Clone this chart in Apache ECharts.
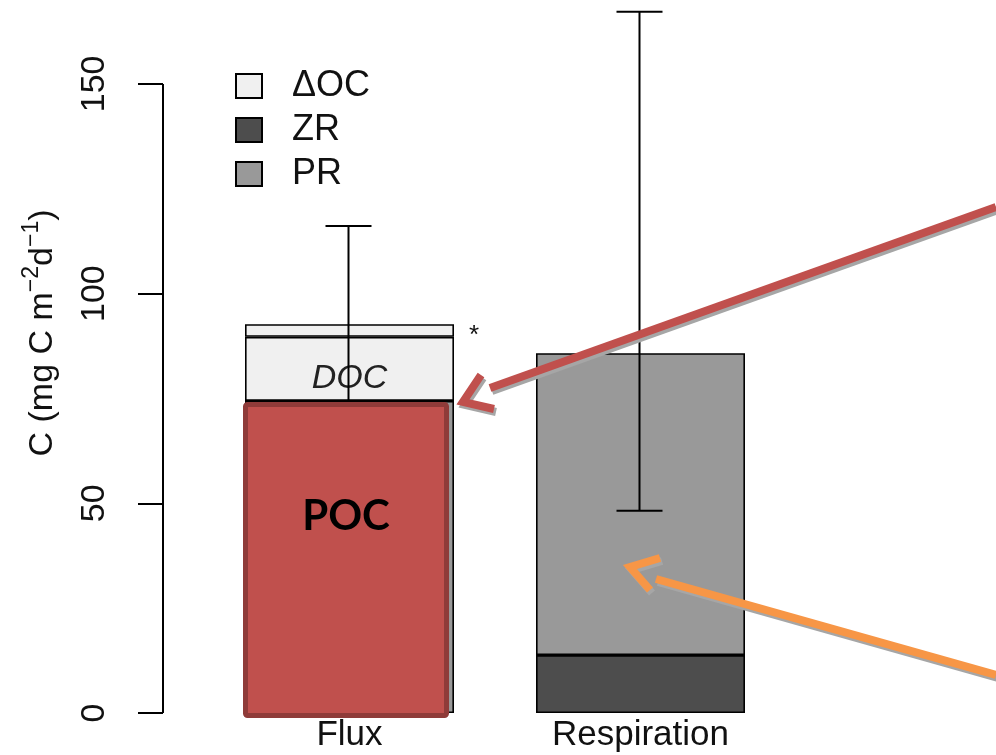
<!DOCTYPE html>
<html>
<head>
<meta charset="utf-8">
<title>Carbon flux vs respiration</title>
<script src="https://cdn.jsdelivr.net/npm/echarts@6/dist/echarts.min.js"></script>
<style>
  html, body { margin: 0; padding: 0; background: #ffffff; }
  #chart { width: 996px; height: 755px; }
</style>
</head>
<body>
<div id="chart"></div>
<script>
// Categories and stacked components (mg C m-2 d-1)
const categories = ['Flux', 'Respiration'];
const pocValues = [74.4, null];
const docValues = [15.3, null];
const deltaOcValues = [3.0, null];
const zrValues = [null, 13.8];
const prValues = [null, 72.0];
// Error bar extents for each total
const errLow = [69.4, 48.2];
const errHigh = [116.1, 167.2];
// Y axis tick values
const yTicks = [0, 50, 100, 150];

const FONT = 'Liberation Sans, Arial, sans-serif';
const gridLeft = 204;
const axisOffset = 41;
const barWidth = 209;

const chart = echarts.init(document.getElementById('chart'), null, { renderer: 'canvas' });

const barBase = {
  type: 'bar',
  stack: 'total',
  barWidth: barWidth,
  z: 2
};

const toPairs = arr => arr.map(v => (v == null ? '-' : v));
const outline = { borderColor: '#000', borderWidth: 1.6 };

const errorData = categories.map((c, i) => [i, errLow[i], errHigh[i]]);
const pocOverlay = pocValues.map((v, i) => (v == null ? null : [i, v])).filter(Boolean);

const option = {
  animation: false,
  backgroundColor: '#ffffff',
  grid: { left: gridLeft, right: 210, top: 0, bottom: 42 },
  legend: {
    left: 230,
    top: 63,
    orient: 'vertical',
    itemWidth: 26,
    itemHeight: 24,
    itemGap: 8,
    icon: 'rect',
    data: ['ΔOC', 'ZR', 'PR'],
    itemStyle: { borderColor: '#000', borderWidth: 2 },
    textStyle: { fontFamily: FONT, fontSize: 36, color: '#111', lineHeight: 35, padding: [0, 0, 0, 25] },
    selectedMode: false
  },
  xAxis: {
    type: 'category',
    data: categories,
    axisLine: { show: false },
    axisTick: { show: false },
    axisLabel: { fontFamily: FONT, fontSize: 35, color: '#111', margin: 5 }
  },
  yAxis: {
    type: 'value',
    min: 0,
    max: 170,
    interval: 50,
    offset: axisOffset,
    axisLine: { show: false },
    splitLine: { show: false },
    axisTick: { show: true, length: 25, customValues: yTicks, lineStyle: { color: '#000', width: 2 } },
    axisLabel: {
      customValues: yTicks,
      rotate: 90,
      margin: 51,
      align: 'center',
      verticalAlign: 'bottom',
      fontFamily: FONT,
      fontSize: 34,
      color: '#111'
    }
  },
  series: [
    Object.assign({}, barBase, { name: 'POC', data: toPairs(pocValues), itemStyle: Object.assign({ color: '#999999' }, outline) }),
    Object.assign({}, barBase, { name: 'ZR', data: toPairs(zrValues), itemStyle: Object.assign({ color: '#4d4d4d' }, outline) }),
    Object.assign({}, barBase, {
      name: 'DOC', data: toPairs(docValues),
      itemStyle: Object.assign({ color: '#f0f0f0' }, outline),
      label: { show: true, position: 'inside', formatter: 'DOC', fontFamily: FONT, fontStyle: 'italic', fontSize: 34, color: '#222', offset: [0, 10] }
    }),
    Object.assign({}, barBase, { name: 'PR', data: toPairs(prValues), itemStyle: Object.assign({ color: '#999999' }, outline) }),
    Object.assign({}, barBase, { name: 'ΔOC', data: toPairs(deltaOcValues), itemStyle: Object.assign({ color: '#f0f0f0' }, outline) }),
    {
      // error bars: vertical line with caps
      type: 'custom',
      name: 'error',
      z: 3,
      data: errorData,
      renderItem: function (params, api) {
        const i = api.value(0);
        const lo = api.coord([i, api.value(1)]);
        const hi = api.coord([i, api.value(2)]);
        const x = lo[0] - 1;
        const half = 23;
        const style = { stroke: '#000', lineWidth: 2 };
        return {
          type: 'group',
          children: [
            { type: 'line', shape: { x1: x, y1: lo[1], x2: x, y2: hi[1] }, style: style },
            { type: 'line', shape: { x1: x - half, y1: hi[1], x2: x + half, y2: hi[1] }, style: style },
            { type: 'line', shape: { x1: x - half, y1: lo[1], x2: x + half, y2: lo[1] }, style: style }
          ]
        };
      }
    },
    {
      // highlighted POC block over the flux bar
      type: 'custom',
      name: 'POC block',
      z: 4,
      data: pocOverlay,
      renderItem: function (params, api) {
        const i = api.value(0);
        const top = api.coord([i, api.value(1)]);
        const base = api.coord([i, 0]);
        const left = top[0] - 104;
        const right = top[0] + 97;
        const y0 = top[1] + 3.5;
        const y1 = base[1] + 2.5;
        return {
          type: 'group',
          children: [
            {
              type: 'rect',
              shape: { x: left, y: y0, width: right - left, height: y1 - y0, r: 2 },
              style: { fill: '#c0504d', stroke: '#8f3b39', lineWidth: 5 }
            },
            {
              type: 'text',
              x: (left + right) / 2,
              y: y0 + (y1 - y0) * 0.36,
              style: {
                text: 'POC', fill: '#000', fontFamily: 'Lato, Liberation Sans, sans-serif',
                fontWeight: 'bold', fontSize: 42, align: 'center', verticalAlign: 'middle'
              }
            }
          ]
        };
      }
    }
  ]
};

chart.setOption(option);

// y axis line spanning the labelled ticks, plus annotations
const axisX = gridLeft - axisOffset;
const yBottom = chart.convertToPixel({ yAxisIndex: 0 }, yTicks[0]);
const yTop = chart.convertToPixel({ yAxisIndex: 0 }, yTicks[yTicks.length - 1]);

function arrow(color, shaft, head) {
  const shadow = '#a6a6a6';
  const shift = pts => pts.map(p => [p[0] + 2, p[1] + 3]);
  const line = (pts, stroke) => ({
    type: 'polyline',
    shape: { points: pts },
    style: { stroke: stroke, lineWidth: 8, fill: null, lineJoin: 'miter', lineCap: 'butt', miterLimit: 10 },
    z: 100
  });
  return [
    line(shift(shaft), shadow), line(shift(head), shadow),
    line(shaft, color), line(head, color)
  ];
}

chart.setOption({
  graphic: [
    {
      type: 'line',
      shape: { x1: axisX, y1: yBottom, x2: axisX, y2: yTop },
      style: { stroke: '#000', lineWidth: 2 },
      z: 50
    },
    {
      type: 'text',
      x: 40,
      y: 333,
      rotation: Math.PI / 2,
      style: {
        text: '{a|C (mg C m}{s|−2}{a|d}{s|−1}{a|)}',
        align: 'center',
        verticalAlign: 'middle',
        rich: {
          a: { fontFamily: FONT, fontSize: 34, fill: '#111', lineHeight: 39, verticalAlign: 'bottom' },
          s: { fontFamily: FONT, fontSize: 23, fill: '#111', lineHeight: 39, verticalAlign: 'top' }
        }
      },
      z: 50
    },
    {
      type: 'text',
      x: 474,
      y: 336,
      style: { text: '*', fontFamily: FONT, fontSize: 26, fill: '#111', align: 'center', verticalAlign: 'middle' },
      z: 50
    }
  ]
    .concat(arrow('#c0504d', [[996, 207], [490, 388]], [[481, 375], [463, 402], [494, 409]]))
    .concat(arrow('#f79646', [[996, 675], [656, 579]], [[660, 558], [630, 567], [650, 590]]))
});
</script>
</body>
</html>
